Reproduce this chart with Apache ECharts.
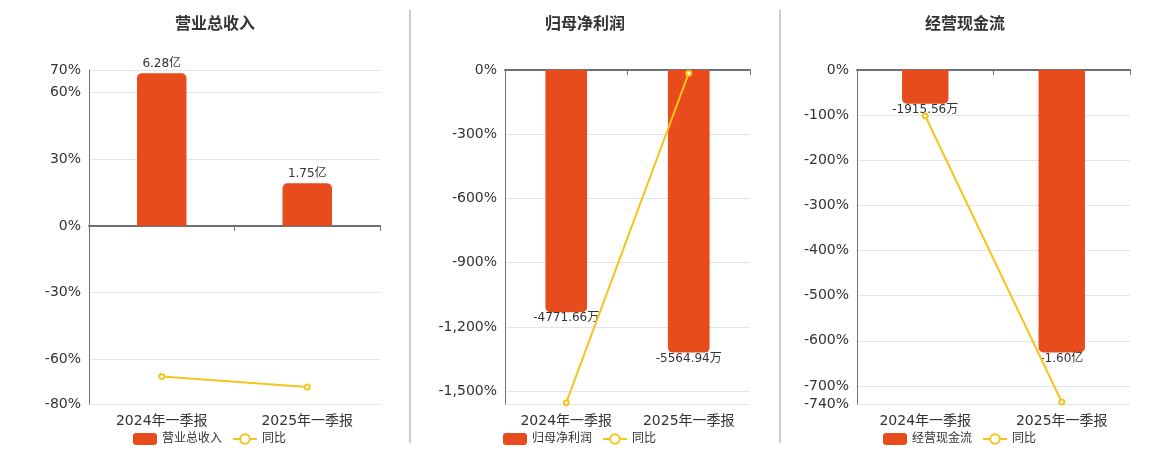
<!DOCTYPE html>
<html>
<head>
<meta charset="utf-8">
<script src="https://cdn.jsdelivr.net/npm/echarts@6/dist/echarts.min.js"></script>
<style>
  html, body { margin: 0; padding: 0; background: #fff; }
  #chart { width: 1160px; height: 450px; }
</style>
</head>
<body>
<div id="chart"></div>
<script>
// categories
var periods = ["2024年一季报", "2025年一季报"];

// bar values (万元)
var revenue = [62800, 17500];
var netProfit = [-4771.66, -5564.94];
var cashFlow = [-1915.56, -16000];

// 同比 (%)
var revenueYoy = [-67.7, -72.4];
var netProfitYoy = [-1554, -15];
var cashFlowYoy = [-101.9, -735.5];

// y axis tick labels (%)
var revenueTicks = [-80, -60, -30, 0, 30, 60, 70];
var netProfitTicks = [-1500, -1200, -900, -600, -300, 0];
var netProfitLines = [-1560, -1500, -1200, -900, -600, -300, 0];
var cashFlowTicks = [-740, -700, -600, -500, -400, -300, -200, -100, 0];

var panelTitles = ["营业总收入", "归母净利润", "经营现金流"];

var BAR_COLOR = "#e84b1c";
var LINE_COLOR = "#f4c51c";
var FONT = "DejaVu Sans, Noto Sans CJK SC, sans-serif";

var panels = [
  { name: panelTitles[0], bars: revenue, yoy: revenueYoy, ticks: revenueTicks, lines: revenueTicks,
    min: -80, max: 70, reach: 68.5,
    grid: { left: 89, right: 780, top: 70, bottom: 46 }, center: 210, legendLeft: 128 },
  { name: panelTitles[1], bars: netProfit, yoy: netProfitYoy, ticks: netProfitTicks, lines: netProfitLines,
    min: -1560, max: 0, reach: 1320,
    grid: { left: 505, right: 410, top: 70, bottom: 46 }, center: 580, legendLeft: 498 },
  { name: panelTitles[2], bars: cashFlow, yoy: cashFlowYoy, ticks: cashFlowTicks, lines: cashFlowTicks,
    min: -740, max: 0, reach: 626,
    grid: { left: 857, right: 30, top: 70, bottom: 46 }, center: 960, legendLeft: 878 }
];

function fmtMoney(v) {
  if (Math.abs(v) >= 10000) {
    return (v / 10000).toFixed(2) + "亿";
  }
  return v.toFixed(2) + "万";
}

function fmtPct(v) {
  return v.toLocaleString("en-US") + "%";
}

var chart = echarts.init(document.getElementById("chart"), null, { renderer: "canvas" });

var option = {
  animation: false,
  backgroundColor: "#fff",
  textStyle: { fontFamily: FONT },
  title: [],
  legend: [],
  grid: [],
  xAxis: [],
  yAxis: [],
  series: [],
  graphic: [
    { type: "line", shape: { x1: 410, y1: 10, x2: 410, y2: 443 }, style: { stroke: "#999", lineWidth: 1 } },
    { type: "line", shape: { x1: 780, y1: 10, x2: 780, y2: 443 }, style: { stroke: "#999", lineWidth: 1 } }
  ]
};

panels.forEach(function (p, i) {
  option.title.push({
    text: p.name,
    left: p.center,
    top: 12,
    textAlign: "center",
    textStyle: { fontSize: 16, fontWeight: "bold", color: "#333", fontFamily: FONT }
  });

  option.legend.push({
    data: [p.name, "同比"],
    left: p.legendLeft,
    top: 428,
    itemWidth: 24,
    itemHeight: 12,
    itemGap: 10,
    textStyle: { fontSize: 12, color: "#333", fontFamily: FONT }
  });

  option.grid.push(p.grid);

  // axis line at zero, no labels
  option.xAxis.push({
    type: "category",
    gridIndex: i,
    data: periods,
    axisLine: { onZero: true, lineStyle: { color: "#6e7079", width: 2 } },
    axisTick: { show: true, length: 5, lineStyle: { color: "#6e7079" } },
    axisLabel: { show: false }
  });
  // labels at the bottom
  option.xAxis.push({
    type: "category",
    gridIndex: i,
    data: periods,
    position: "bottom",
    axisLine: { show: false, onZero: false },
    axisTick: { show: false },
    axisLabel: { fontSize: 14, color: "#333", margin: 10, fontFamily: FONT }
  });

  option.yAxis.push({
    type: "value",
    gridIndex: i,
    min: p.min,
    max: p.max,
    axisLine: { show: true, lineStyle: { color: "#6e7079" } },
    axisTick: { show: false, customValues: p.lines },
    axisLabel: { fontSize: 14, color: "#333", formatter: fmtPct, customValues: p.ticks, fontFamily: FONT },
    splitLine: { lineStyle: { color: "#e0e6f1" }, customValues: p.lines }
  });

  var maxAbs = Math.max.apply(null, p.bars.map(Math.abs));
  var f = maxAbs / p.reach;
  option.yAxis.push({
    type: "value",
    gridIndex: i,
    show: false,
    min: p.min * f,
    max: p.max * f,
    splitLine: { show: false }
  });

  option.series.push({
    name: p.name,
    type: "bar",
    xAxisIndex: i * 2,
    yAxisIndex: i * 2 + 1,
    barWidth: "34%",
    itemStyle: { color: BAR_COLOR },
    data: p.bars.map(function (v) {
      return {
        value: v,
        itemStyle: { borderRadius: v >= 0 ? [5, 5, 0, 0] : [0, 0, 5, 5] },
        label: { position: v >= 0 ? "top" : "bottom", distance: v >= 0 ? 3 : 0 }
      };
    }),
    label: {
      show: true,
      fontSize: 12,
      color: "#333",
      fontFamily: FONT,
      formatter: function (d) { return fmtMoney(d.value); }
    }
  });

  option.series.push({
    name: "同比",
    type: "line",
    xAxisIndex: i * 2,
    yAxisIndex: i * 2,
    data: p.yoy,
    symbol: "emptyCircle",
    symbolSize: 5,
    itemStyle: { color: LINE_COLOR },
    lineStyle: { color: LINE_COLOR, width: 2 },
    z: 5
  });
});

chart.setOption(option);
window.addEventListener("resize", chart.resize);
</script>
</body>
</html>
